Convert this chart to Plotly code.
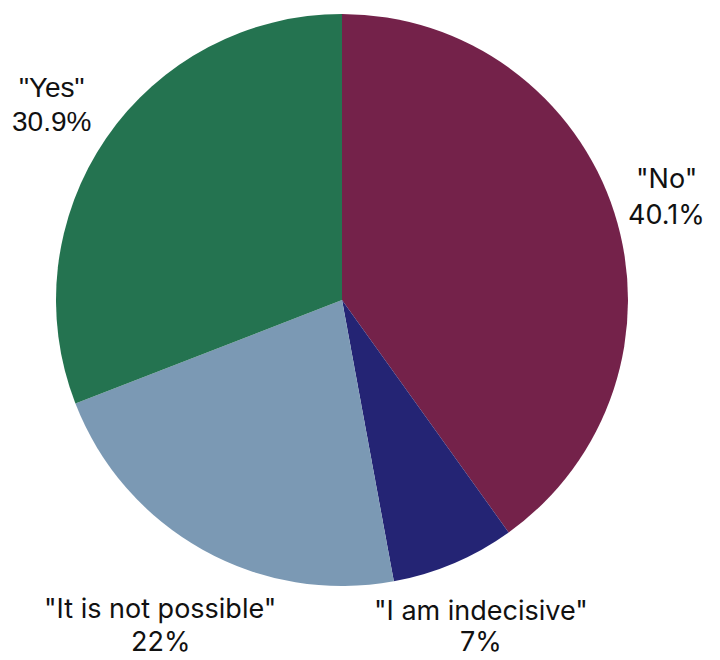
import plotly.graph_objects as go

labels = ['"No"', '"I am indecisive"', '"It is not possible"', '"Yes"']
values = [40.1, 7, 22, 30.9]
pct_text = ["40.1%", "7%", "22%", "30.9%"]
colors = ["#74224A", "#242474", "#7B99B4", "#247350"]
fonts = ["Inter", "Inter", "Inter", "Liberation Sans"]

W, H = 720, 660

# label block positions in pixels: (x centre, y of name line, y of percent line)
label_pos = [(666, 178, 214), (481, 610, 646), (160, 608, 646), (52, 87, 121)]
font_sizes = [27, 27, 27, 28]

fig = go.Figure(
    go.Pie(
        labels=labels,
        values=values,
        textinfo="none",
        marker=dict(colors=colors, line=dict(width=0)),
        sort=False,
        direction="clockwise",
        rotation=0,
        showlegend=False,
        hoverinfo="label+percent",
        domain=dict(x=[56 / W, 628 / W], y=[74 / H, 646 / H]),
    )
)

annotations = []
for lab, pct, fam, size, (px, py1, py2) in zip(labels, pct_text, fonts, font_sizes, label_pos):
    for txt, py in ((lab, py1), (pct, py2)):
        y = 1 - py / H
        anchor = "middle"
        if py > H - 20:
            # keep bottom-row percentages inside the canvas
            y, anchor = 0, "bottom"
        annotations.append(
            dict(
                text=txt,
                x=px / W,
                y=y,
                xref="paper",
                yref="paper",
                xanchor="center",
                yanchor=anchor,
                showarrow=False,
                font=dict(family=fam, size=size, color="#111111"),
            )
        )

fig.update_layout(
    width=W,
    height=H,
    margin=dict(l=0, r=0, t=0, b=0),
    paper_bgcolor="white",
    plot_bgcolor="white",
    annotations=annotations,
)

fig.write_html("out.html")
